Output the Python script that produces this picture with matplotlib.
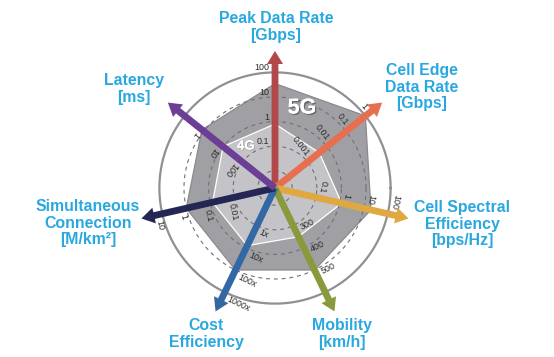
import numpy as np
import matplotlib.pyplot as plt
from matplotlib import patheffects as pe

# axes of the radar, clockwise from the top
titles = ["Peak Data Rate\n[Gbps]", "Cell Edge\nData Rate\n[Gbps]",
          "Cell Spectral\nEfficiency\n[bps/Hz]", "Mobility\n[km/h]",
          "Cost\nEfficiency", "Simultaneous\nConnection\n[M/km\u00b2]",
          "Latency\n[ms]"]
tick_labels = [["0.1", "1", "10", "100"],
               ["0.001", "0.01", "0.1", "1"],
               ["0.1", "1", "10", "100"],
               ["300", "400", "500"],
               ["1x", "10x", "100x", "1000x"],
               ["0.01", "0.1", "1", "10"],
               ["100", "10", "1"]]
# value at the centre ring and factor (log) / step (lin) per ring
scale_kind = ["log", "log", "log", "lin", "log", "log", "log"]
scale_base = [0.01, 0.0001, 0.01, 200, 0.1, 0.001, 1000]
scale_step = [10, 10, 10, 100, 10, 10, 0.1]

values_4g = [0.8, 0.004, 1.2, 350, 8, 0.08, 10]
values_5g = [35, 1, 20, 500, 100, 1, 0.8]

arrow_colors = ["#b2484a", "#e86e50", "#e0a840", "#889a3c",
                "#3468a4", "#242654", "#6c3e96"]
title_color = "#29a8e0"

# title block centres in image pixels
title_pos = [(276, 27), (422, 87), (462, 224), (342, 334),
             (206, 334), (88, 223), (134, 89)]

W, H = 554, 357
cx, cy = 275, 188          # centre in image pixels
U = 24.6                   # px per ring
R0 = 0.7                   # ring 0 offset
n_axes = len(titles)
theta = np.deg2rad(90 - np.arange(n_axes) * 360 / n_axes)


def level(i, v):
    if scale_kind[i] == "log":
        return np.log(v / scale_base[i]) / np.log(scale_step[i])
    return (v - scale_base[i]) / scale_step[i]


def radius(k):
    return (R0 + k) * U


plt.rcParams['font.family'] = ['Liberation Sans', 'DejaVu Sans']
fig = plt.figure(figsize=(W / 100, H / 100), dpi=100)
ax = fig.add_axes([0, 0, 1, 1])
ax.set_xlim(-cx, W - cx)
ax.set_ylim(-(H - cy), cy)
ax.set_aspect('equal')
ax.axis('off')

# polygons
for vals, fc, ec, z in [(values_5g, "#a0a0a4", "#8a8a8e", 1),
                        (values_4g, "#c4c4c8", "white", 2)]:
    r = np.array([radius(level(i, v)) for i, v in enumerate(vals)])
    px = r * np.cos(theta)
    py = r * np.sin(theta)
    ax.fill(px, py, fc=fc, ec=ec, lw=0.9, zorder=z)

# rings
t = np.linspace(0, 2 * np.pi, 400)
for k in range(4):
    ax.plot(radius(k) * np.cos(t), radius(k) * np.sin(t), color="#707074",
            lw=0.8, ls=(0, (3.5, 3.5)), zorder=3)
ax.plot(radius(4) * np.cos(t), radius(4) * np.sin(t), color="#909094",
        lw=1.6, zorder=3)

# tick labels along each axis, on the counter-clockwise side
for i in range(n_axes):
    u = np.array([np.cos(theta[i]), np.sin(theta[i])])
    n = np.array([-np.sin(theta[i]), np.cos(theta[i])])
    rot = np.rad2deg(theta[i]) - 90
    ha = "right"
    if rot < -110:
        rot += 180
        ha = "left"
    for k, lab in enumerate(tick_labels[i], start=1):
        p = (radius(k) + 4.5) * u + 5.5 * n
        ax.text(p[0], p[1], lab, fontsize=6.4, color="#2a2a2a",
                rotation=rot, rotation_mode="anchor", ha=ha, va="center",
                zorder=4)

# arrows
L = 137
for i in range(n_axes):
    ax.arrow(0, 0, L * np.cos(theta[i]), L * np.sin(theta[i]), width=6.8,
             head_width=16, head_length=13, length_includes_head=True,
             fc=arrow_colors[i], ec="none", zorder=5)

# axis titles
for i in range(n_axes):
    x, y = title_pos[i]
    ax.text(x - cx, cy - y, titles[i], fontsize=11.4, fontweight="bold",
            color=title_color, ha="center", va="center",
            multialignment="center", linespacing=1.15, zorder=6)

ax.text(302 - cx, cy - 108, "5G", fontsize=15.5, fontweight="bold",
        color="white", ha="center", va="center", zorder=6,
        path_effects=[pe.withSimplePatchShadow(offset=(1, -1),
                                               shadow_rgbFace="#555555",
                                               alpha=0.7), pe.Normal()])
ax.text(246 - cx, cy - 146.5, "4G", fontsize=9.5, fontweight="bold",
        color="white", ha="center", va="center", zorder=6,
        path_effects=[pe.withSimplePatchShadow(offset=(0.6, -0.6),
                                               shadow_rgbFace="#777777",
                                               alpha=0.5), pe.Normal()])

fig.savefig("out.png", dpi=100)
